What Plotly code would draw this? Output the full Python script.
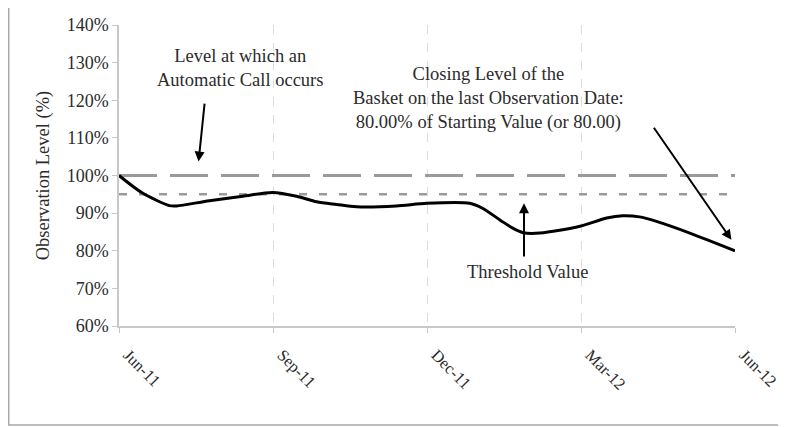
import plotly.graph_objects as go

# Data (months since Jun-11, observation level %)
months = [0.0, 0.45, 0.98, 1.12, 1.76, 2.41, 2.99, 3.46, 3.85, 4.24, 4.63, 5.4, 6.0,
          6.83, 7.08, 7.42, 7.67, 7.87, 8.2, 8.98, 9.5, 9.81, 10.14, 10.47, 11.12, 12.0]
levels = [100, 95.4, 92.0, 91.9, 93.3, 94.5, 95.5, 94.5, 93.0, 92.3, 91.7, 91.9, 92.6,
          92.6, 91.3, 88.2, 86.0, 84.8, 84.7, 86.5, 88.7, 89.3, 89.0, 87.8, 84.7, 80.0]
call_level = 100
threshold = 95
tick_months = [0, 3, 6, 9, 12]
tick_labels = ["Jun-11", "Sep-11", "Dec-11", "Mar-12", "Jun-12"]
y_ticks = [60, 70, 80, 90, 100, 110, 120, 130, 140]

FONT = "Liberation Serif"
TXT = "#2b2b2b"

fig = go.Figure()
fig.add_trace(go.Scatter(x=[0, 12], y=[call_level, call_level], mode="lines",
                         line=dict(color="#9a9a9a", width=3, dash="38px,13px"),
                         hoverinfo="skip", showlegend=False))
fig.add_trace(go.Scatter(x=[0, 12], y=[threshold, threshold], mode="lines",
                         line=dict(color="#9a9a9a", width=2.5, dash="8px,12px"),
                         hoverinfo="skip", showlegend=False))
fig.add_trace(go.Scatter(x=months, y=levels, mode="lines",
                         line=dict(color="black", width=3, shape="spline", smoothing=0.8),
                         showlegend=False))

# Annotation texts
ANN = dict(family=FONT, size=18.5, color=TXT)
fig.add_annotation(x=2.35, y=128.5, xref="x", yref="y", showarrow=False,
                   text="Level at which an<br>Automatic Call occurs",
                   font=ANN, align="center")
fig.add_annotation(x=7.2, y=120.5, xref="x", yref="y", showarrow=False,
                   text="Closing Level of the<br>Basket on the last Observation Date:<br>80.00% of Starting Value (or 80.00)",
                   font=ANN, align="center")
fig.add_annotation(x=7.95, y=74.4, xref="x", yref="y", showarrow=False,
                   text="Threshold Value", font=ANN, align="center")

# Arrows
arrow_style = dict(showarrow=True, arrowhead=2, arrowsize=1, arrowwidth=2,
                   arrowcolor="black", axref="x", ayref="y", xref="x", yref="y", text="")
fig.add_annotation(x=1.55, y=103.7, ax=1.67, ay=119.5, **arrow_style)
fig.add_annotation(x=11.93, y=82.9, ax=10.4, ay=113.1, **arrow_style)
fig.add_annotation(x=7.89, y=92.6, ax=7.89, ay=78.1, **arrow_style)

# Outer frame
fig.add_shape(type="rect", xref="paper", yref="paper", x0=-0.179, x1=1.2, y0=-0.329, y1=1.2,
              line=dict(color="#a8a8a8", width=1.5), fillcolor="rgba(0,0,0,0)", layer="below")

fig.update_layout(
    width=778, height=419,
    margin=dict(l=111, r=51, t=17, b=101, autoexpand=False),
    paper_bgcolor="white", plot_bgcolor="white",
    font=dict(family=FONT, size=17, color=TXT),
    showlegend=False,
)
fig.update_xaxes(range=[0, 12], tickvals=tick_months, ticktext=tick_labels, tickangle=45,
                 showgrid=True, gridcolor="#dcdcdc", griddash="dash", gridwidth=1,
                 showline=True, linecolor="#c8c8c8", linewidth=1.5,
                 ticks="outside", ticklen=5, tickcolor="#c8c8c8",
                 ticklabelstandoff=6, ticklabelshift=9, ticklabeloverflow="allow",
                 zeroline=False, automargin=False,
                 tickfont=dict(family=FONT, size=16.5, color=TXT))
fig.update_yaxes(range=[60, 140], tickvals=y_ticks, ticktext=[f"{v}%" for v in y_ticks],
                 showgrid=False, showline=True, linecolor="#c8c8c8", linewidth=1.5,
                 ticks="outside", ticklen=5, tickcolor="#c8c8c8", zeroline=False,
                 automargin=False,
                 tickfont=dict(family=FONT, size=18, color=TXT),
                 title=dict(text="Observation Level (%)", standoff=12,
                            font=dict(family=FONT, size=18.5, color=TXT)))

fig.write_html("out.html")
